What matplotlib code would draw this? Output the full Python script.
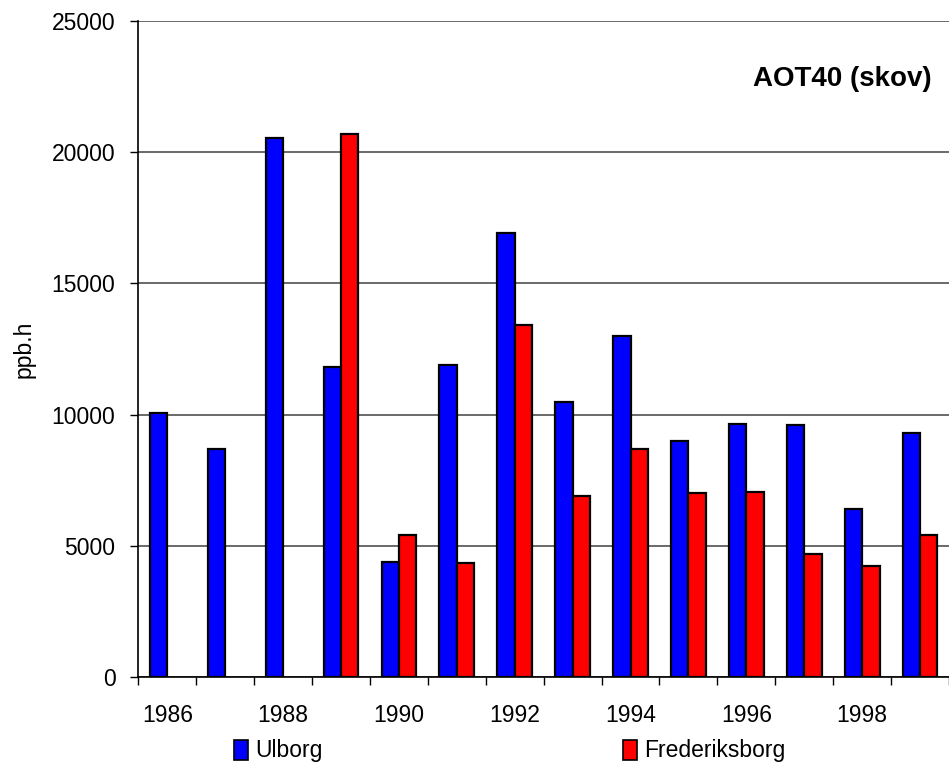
import numpy as np
import matplotlib
matplotlib.use('Agg')
import matplotlib.pyplot as plt
from matplotlib.patches import Patch

plt.rcParams['font.family'] = ['Liberation Sans', 'DejaVu Sans']

# AOT40 forest values per year (ppb.h)
years = [1986, 1987, 1988, 1989, 1990, 1991, 1992, 1993, 1994, 1995, 1996, 1997, 1998, 1999]
ulborg = [10050, 8700, 20550, 11800, 4400, 11900, 16900, 10500, 13000, 9000, 9650, 9600, 6400, 9300]
frederiksborg = [0, 0, 0, 20700, 5430, 4350, 13400, 6900, 8700, 7000, 7050, 4700, 4250, 5400]

W, H = 949, 762
fs = 16.5
fig = plt.figure(figsize=(W / 100, H / 100), dpi=100)
left, right = 138.3 / W, 1.0
bottom, top = (H - 677.3) / H, (H - 20.7) / H
ax = fig.add_axes([left, bottom, right - left, top - bottom])

x = np.arange(len(years))
bw = 0.3
ax.bar(x, ulborg, width=-bw, align='edge', color='#0000ff', edgecolor='black', linewidth=1.6, zorder=3)
fr = [v if v > 0 else np.nan for v in frederiksborg]
ax.bar(x, fr, width=bw, align='edge', color='#ff0000', edgecolor='black', linewidth=1.6, zorder=3)

ax.set_ylim(0, 25000)
ax.set_xlim(-0.5, (W - 138.3) / 58.67 - 0.5)
ax.set_yticks(np.arange(0, 25001, 5000))
ax.yaxis.grid(True, color='#505050', linewidth=1.2, zorder=0)
ax.tick_params(axis='y', length=6, width=1, labelsize=fs, pad=10.5)

# tick marks between years, labels on every other year
ax.set_xticks(np.arange(-0.5, len(years), 1.0))
ax.set_xticklabels([])
ax.tick_params(axis='x', which='major', length=6, width=1)
ax.set_xticks(x, minor=True)
ax.set_xticklabels([str(y) if y % 2 == 0 else '' for y in years], minor=True)
ax.tick_params(axis='x', which='minor', length=0, labelsize=fs, pad=19)

for s in ['top', 'right']:
    ax.spines[s].set_visible(False)
ax.spines['left'].set_linewidth(1.2)
ax.spines['bottom'].set_linewidth(1.2)

fig.text(24 / W, 1 - 349 / H, 'ppb.h', rotation=90, ha='center', va='center', fontsize=fs)
fig.text(932 / W, 1 - 79 / H, 'AOT40 (skov)', ha='right', va='center',
         fontsize=20, fontweight='bold')

# two legend entries placed separately under the axis
for lbl, col, x0 in [('Ulborg', '#0000ff', 234), ('Frederiksborg', '#ff0000', 623)]:
    h = Patch(facecolor=col, edgecolor='black', linewidth=1.2)
    fig.legend([h], [lbl], frameon=False, loc='center left',
               bbox_to_anchor=(x0 / W, 1 - 751 / H), borderpad=0, borderaxespad=0,
               handlelength=0.62, handleheight=0.95, handletextpad=0.3, fontsize=fs)

fig.savefig('out.png', dpi=100)
